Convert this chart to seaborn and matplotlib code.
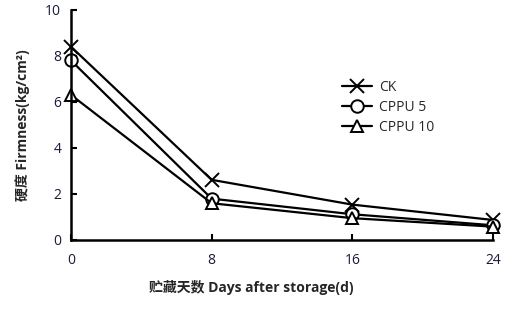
import matplotlib
matplotlib.use("Agg")
import matplotlib.pyplot as plt
import seaborn as sns
import pandas as pd

days = [0, 8, 16, 24]
ck = [8.4, 2.6, 1.52, 0.85]
cppu5 = [7.8, 1.78, 1.1, 0.62]
cppu10 = [6.3, 1.58, 0.93, 0.56]
series_names = ["CK", "CPPU 5", "CPPU 10"]
xticks = [0, 8, 16, 24]
yticks = [0, 2, 4, 6, 8, 10]

sns.set_theme(style="ticks")
plt.rcParams['font.family'] = ['Open Sans', 'Noto Sans CJK SC', 'DejaVu Sans']

fig = plt.figure(figsize=(5.12, 3.11), dpi=100)
ax = fig.add_axes([71/512, 1 - 239.5/311, (493-71)/512, (239.5-10)/311])

marker_list = ["x", "o", "^"]
for name, vals, mk in zip(series_names, [ck, cppu5, cppu10], marker_list):
    d = pd.DataFrame({"day": days, "value": vals})
    sns.lineplot(data=d, x="day", y="value", color="black", marker=mk,
                 markersize=9 if mk != "x" else 10, markerfacecolor="white",
                 markeredgecolor="black", markeredgewidth=1.4, linewidth=1.6,
                 label=name, ax=ax, clip_on=False)

ax.set_xlim(0, 24)
ax.set_ylim(0, 10)
ax.set_xticks(xticks)
ax.set_yticks(yticks)
ax.tick_params(direction="in", length=4, width=1.5, labelsize=10, colors="black",
               labelcolor="#1a1a3a")
ax.tick_params(axis="x", pad=10)
ax.tick_params(axis="y", pad=7)
for s in ["top", "right"]:
    ax.spines[s].set_visible(False)
for s in ["left", "bottom"]:
    ax.spines[s].set_linewidth(1.8)
    ax.spines[s].set_color("black")

ax.set_xlabel("贮藏天数 Days after storage(d)", fontsize=10, fontweight="bold",
              family=['Open Sans', 'Noto Sans CJK SC'])
ax.xaxis.set_label_coords((251 - 71) / 422, -0.175)
ax.set_ylabel("硬度 Firmness(kg/cm²)", fontsize=10, fontweight="bold",
              family=['Open Sans', 'Noto Sans CJK SC'])
ax.yaxis.set_label_coords(-0.097, 0.5)

leg = ax.legend(loc="upper left", bbox_to_anchor=(0.612, 0.75), frameon=False,
                fontsize=10, handlelength=2.2, labelspacing=0.35, handletextpad=0.5)

fig.savefig("out.png", dpi=100)
